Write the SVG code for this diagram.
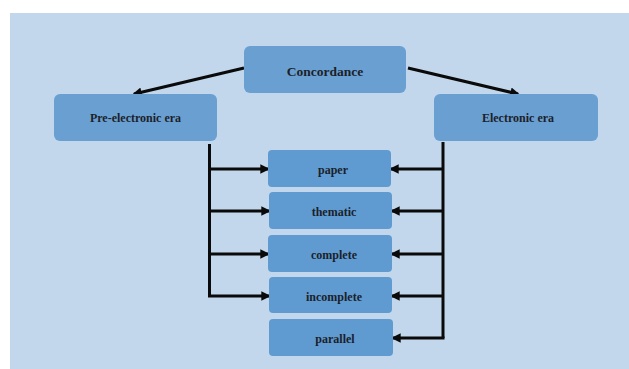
<svg xmlns="http://www.w3.org/2000/svg" width="629" height="369" viewBox="0 0 629 369">
<defs>
<style>
.box{fill:#6a9fd2;}
.sub{fill:#5f9bd1;}
.t{font-family:"Liberation Serif","Times New Roman",serif;font-weight:bold;fill:#1c1f2a;text-anchor:middle;dominant-baseline:central;font-size:12px;}
.big{font-size:13.5px;}
.c{stroke:#0a0a0a;stroke-width:3;fill:none;}
.a{stroke:#0a0a0a;stroke-width:3;fill:none;marker-end:url(#ah);}
</style>
<marker id="ah" viewBox="0 0 10 10" refX="8" refY="5" markerWidth="3.2" markerHeight="3.2" orient="auto" markerUnits="strokeWidth">
<path d="M0,0 L10,5 L0,10 Z" fill="#0a0a0a"/>
</marker>
</defs>
<rect width="629" height="369" fill="#ffffff"/>
<rect x="10" y="13" width="619" height="356" fill="#c2d7eb"/>
<g id="connectors">
<line class="a" x1="244" y1="68" x2="134" y2="94"/>
<line class="a" x1="408" y1="68" x2="518" y2="94"/>
<polyline class="c" points="209.5,144 209.5,296"/>
<line class="a" x1="208" y1="169" x2="268" y2="169"/>
<line class="a" x1="208" y1="211" x2="269" y2="211"/>
<line class="a" x1="208" y1="254" x2="268" y2="254"/>
<line class="a" x1="208" y1="296" x2="269" y2="296"/>
<polyline class="c" points="443,142 443,338"/>
<line class="a" x1="444" y1="169" x2="391" y2="169"/>
<line class="a" x1="444" y1="211" x2="392" y2="211"/>
<line class="a" x1="444" y1="254" x2="392" y2="254"/>
<line class="a" x1="444" y1="296" x2="392" y2="296"/>
<line class="a" x1="444.5" y1="338" x2="393" y2="338"/>
</g>
<g id="concordance"><rect class="box" x="244" y="46" width="162" height="47" rx="6"/><text class="t big" x="325" y="71">Concordance</text></g>
<g id="pre-electronic"><rect class="box" x="54" y="94" width="163" height="47" rx="6"/><text class="t" x="135.5" y="117.5">Pre-electronic era</text></g>
<g id="electronic"><rect class="box" x="434" y="94" width="164" height="47" rx="6"/><text class="t" x="518" y="117.5">Electronic era</text></g>
<g id="paper"><rect class="sub" x="268" y="150" width="123" height="37" rx="4"/><text class="t" x="333" y="170">paper</text></g>
<g id="thematic"><rect class="sub" x="269" y="192" width="123" height="37" rx="4"/><text class="t" x="334" y="212">thematic</text></g>
<g id="complete"><rect class="sub" x="268" y="235" width="124" height="37" rx="4"/><text class="t" x="334" y="255">complete</text></g>
<g id="incomplete"><rect class="sub" x="269" y="277" width="123" height="36" rx="4"/><text class="t" x="334" y="297">incomplete</text></g>
<g id="parallel"><rect class="sub" x="269" y="319" width="124" height="37" rx="4"/><text class="t" x="335" y="339">parallel</text></g>
</svg>
